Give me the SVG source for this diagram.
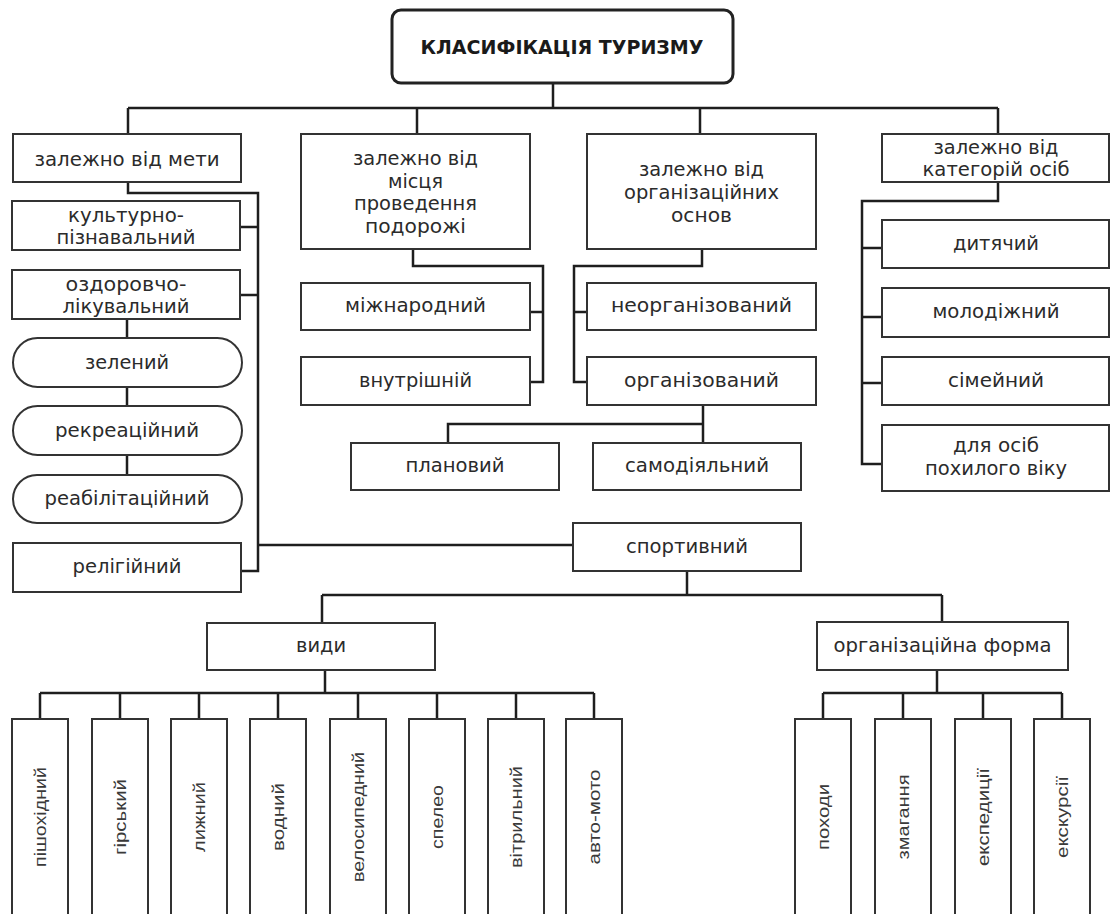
<svg xmlns="http://www.w3.org/2000/svg" width="1111" height="914" viewBox="0 0 1111 914">
<style>
.box{fill:#fff;stroke:#333;stroke-width:2}
.title{fill:#fff;stroke:#222;stroke-width:3}
.c{fill:none;stroke:#1e1e1e;stroke-width:2.5}
.t{font-family:"DejaVu Sans","Liberation Sans",sans-serif;font-size:20px;fill:#2b2b2b;text-anchor:middle}
.tb{font-family:"DejaVu Sans","Liberation Sans",sans-serif;font-size:19px;font-weight:bold;fill:#1a1a1a;text-anchor:middle}
.v{font-family:"Liberation Sans","Arial",sans-serif;font-size:17px;fill:#3a3a3a;text-anchor:middle}
</style>
<rect width="1111" height="914" fill="#fff"/>
<g id="connectors">
<path class="c" d="M553,83V108M128,108H998M128,108V134M417,108V134M700,108V134M998,108V134"/>
<path class="c" d="M128,182V193H258V571H241M241,227H258M241,295H258M258,545H573"/>
<path class="c" d="M127,319V338M127,387V406M127,455V475"/>
<path class="c" d="M413,249V266H543V382H530M530,312H543"/>
<path class="c" d="M702,249V266H574V382H587M574,312H587"/>
<path class="c" d="M703,405V443M703,424H448V443"/>
<path class="c" d="M998,182V201H862V464H882M862,248H882M862,317H882M862,383H882"/>
<path class="c" d="M687,571V595M322,595H942M322,595V623M942,595V622"/>
<path class="c" d="M325,670V693M40,693H594M40,693V719M120,693V719M199,693V719M278,693V719M358,693V719M437,693V719M516,693V719M594,693V719"/>
<path class="c" d="M937,670V693M823,693H1062M823,693V719M903,693V719M983,693V719M1062,693V719"/>
</g>
<g id="n-title"><rect class="title" x="392" y="10" width="341" height="73" rx="9"/><text class="tb" x="562" y="54" textLength="283" lengthAdjust="spacingAndGlyphs">КЛАСИФІКАЦІЯ ТУРИЗМУ</text></g>
<g id="n-meta"><rect class="box" x="13" y="134" width="228" height="48"/><text class="t" x="127" y="166" textLength="185" lengthAdjust="spacingAndGlyphs">залежно від мети</text></g>
<g id="n-place"><rect class="box" x="301" y="134" width="229" height="115"/><text class="t" x="415.5" y="165" textLength="125" lengthAdjust="spacingAndGlyphs">залежно від</text><text class="t" x="415.5" y="188" textLength="55" lengthAdjust="spacingAndGlyphs">місця</text><text class="t" x="415.5" y="210" textLength="123" lengthAdjust="spacingAndGlyphs">проведення</text><text class="t" x="415.5" y="233" textLength="101" lengthAdjust="spacingAndGlyphs">подорожі</text></g>
<g id="n-org"><rect class="box" x="587" y="134" width="229" height="115"/><text class="t" x="701.5" y="176" textLength="125" lengthAdjust="spacingAndGlyphs">залежно від</text><text class="t" x="701.5" y="199" textLength="155" lengthAdjust="spacingAndGlyphs">організаційних</text><text class="t" x="701.5" y="222" textLength="61" lengthAdjust="spacingAndGlyphs">основ</text></g>
<g id="n-cat"><rect class="box" x="882" y="134" width="227" height="48"/><text class="t" x="996" y="154" textLength="125" lengthAdjust="spacingAndGlyphs">залежно від</text><text class="t" x="996" y="176" textLength="147" lengthAdjust="spacingAndGlyphs">категорій осіб</text></g>
<g id="n-cult"><rect class="box" x="12" y="201" width="228" height="49"/><text class="t" x="126" y="222" textLength="116" lengthAdjust="spacingAndGlyphs">культурно-</text><text class="t" x="126" y="244" textLength="139" lengthAdjust="spacingAndGlyphs">пізнавальний</text></g>
<g id="n-health"><rect class="box" x="12" y="270" width="228" height="49"/><text class="t" x="126" y="291" textLength="121" lengthAdjust="spacingAndGlyphs">оздоровчо-</text><text class="t" x="126" y="313" textLength="127" lengthAdjust="spacingAndGlyphs">лікувальний</text></g>
<g id="n-green"><rect class="box" x="13" y="338" width="229" height="49" rx="24.5"/><text class="t" x="127" y="368.5" textLength="84" lengthAdjust="spacingAndGlyphs">зелений</text></g>
<g id="n-recr"><rect class="box" x="13" y="406" width="229" height="49" rx="24.5"/><text class="t" x="127" y="437" textLength="144" lengthAdjust="spacingAndGlyphs">рекреаційний</text></g>
<g id="n-rehab"><rect class="box" x="13" y="475" width="229" height="48" rx="24"/><text class="t" x="127" y="505" textLength="165" lengthAdjust="spacingAndGlyphs">реабілітаційний</text></g>
<g id="n-relig"><rect class="box" x="13" y="543" width="228" height="49"/><text class="t" x="127" y="573" textLength="109" lengthAdjust="spacingAndGlyphs">релігійний</text></g>
<g id="n-intl"><rect class="box" x="301" y="283" width="229" height="47"/><text class="t" x="415.5" y="312" textLength="141" lengthAdjust="spacingAndGlyphs">міжнародний</text></g>
<g id="n-dom"><rect class="box" x="301" y="357" width="229" height="48"/><text class="t" x="415.5" y="387" textLength="113" lengthAdjust="spacingAndGlyphs">внутрішній</text></g>
<g id="n-unorg"><rect class="box" x="587" y="283" width="229" height="47"/><text class="t" x="701.5" y="312" textLength="181" lengthAdjust="spacingAndGlyphs">неорганізований</text></g>
<g id="n-orgd"><rect class="box" x="587" y="357" width="229" height="48"/><text class="t" x="701.5" y="387" textLength="155" lengthAdjust="spacingAndGlyphs">організований</text></g>
<g id="n-plan"><rect class="box" x="351" y="443" width="208" height="47"/><text class="t" x="455" y="472" textLength="99" lengthAdjust="spacingAndGlyphs">плановий</text></g>
<g id="n-self"><rect class="box" x="593" y="443" width="208" height="47"/><text class="t" x="697" y="472" textLength="144" lengthAdjust="spacingAndGlyphs">самодіяльний</text></g>
<g id="n-child"><rect class="box" x="882" y="220" width="227" height="48"/><text class="t" x="996" y="250" textLength="86" lengthAdjust="spacingAndGlyphs">дитячий</text></g>
<g id="n-youth"><rect class="box" x="882" y="288" width="227" height="49"/><text class="t" x="996" y="318" textLength="127" lengthAdjust="spacingAndGlyphs">молодіжний</text></g>
<g id="n-family"><rect class="box" x="882" y="357" width="227" height="48"/><text class="t" x="996" y="387" textLength="96" lengthAdjust="spacingAndGlyphs">сімейний</text></g>
<g id="n-old"><rect class="box" x="882" y="425" width="227" height="66"/><text class="t" x="996" y="452" textLength="86" lengthAdjust="spacingAndGlyphs">для осіб</text><text class="t" x="996" y="475" textLength="142" lengthAdjust="spacingAndGlyphs">похилого віку</text></g>
<g id="n-sport"><rect class="box" x="573" y="523" width="228" height="48"/><text class="t" x="687" y="553" textLength="122" lengthAdjust="spacingAndGlyphs">спортивний</text></g>
<g id="n-vydy"><rect class="box" x="207" y="623" width="228" height="47"/><text class="t" x="321" y="652" textLength="50" lengthAdjust="spacingAndGlyphs">види</text></g>
<g id="n-form"><rect class="box" x="817" y="622" width="251" height="48"/><text class="t" x="942.5" y="652" textLength="218" lengthAdjust="spacingAndGlyphs">організаційна форма</text></g>
<g id="n-walk"><rect class="box" x="12" y="719" width="56" height="198"/><text class="v" transform="translate(46,817) rotate(-90)" textLength="100" lengthAdjust="spacingAndGlyphs">пішохідний</text></g>
<g id="n-mount"><rect class="box" x="92" y="719" width="56" height="198"/><text class="v" transform="translate(126,817) rotate(-90)" textLength="76" lengthAdjust="spacingAndGlyphs">гірський</text></g>
<g id="n-ski"><rect class="box" x="171" y="719" width="56" height="198"/><text class="v" transform="translate(205,817) rotate(-90)" textLength="70" lengthAdjust="spacingAndGlyphs">лижний</text></g>
<g id="n-water"><rect class="box" x="250" y="719" width="56" height="198"/><text class="v" transform="translate(284,817) rotate(-90)" textLength="68" lengthAdjust="spacingAndGlyphs">водний</text></g>
<g id="n-bike"><rect class="box" x="330" y="719" width="56" height="198"/><text class="v" transform="translate(364,817) rotate(-90)" textLength="130" lengthAdjust="spacingAndGlyphs">велосипедний</text></g>
<g id="n-speleo"><rect class="box" x="409" y="719" width="56" height="198"/><text class="v" transform="translate(443,817) rotate(-90)" textLength="64" lengthAdjust="spacingAndGlyphs">спелео</text></g>
<g id="n-sail"><rect class="box" x="488" y="719" width="56" height="198"/><text class="v" transform="translate(522,817) rotate(-90)" textLength="102" lengthAdjust="spacingAndGlyphs">вітрильний</text></g>
<g id="n-auto"><rect class="box" x="566" y="719" width="56" height="198"/><text class="v" transform="translate(600,817) rotate(-90)" textLength="95" lengthAdjust="spacingAndGlyphs">авто-мото</text></g>
<g id="n-hikes"><rect class="box" x="795" y="719" width="56" height="198"/><text class="v" transform="translate(829,817) rotate(-90)" textLength="66" lengthAdjust="spacingAndGlyphs">походи</text></g>
<g id="n-comp"><rect class="box" x="875" y="719" width="56" height="198"/><text class="v" transform="translate(909,817) rotate(-90)" textLength="85" lengthAdjust="spacingAndGlyphs">змагання</text></g>
<g id="n-exped"><rect class="box" x="955" y="719" width="56" height="198"/><text class="v" transform="translate(989,817) rotate(-90)" textLength="98" lengthAdjust="spacingAndGlyphs">експедиції</text></g>
<g id="n-excur"><rect class="box" x="1034" y="719" width="56" height="198"/><text class="v" transform="translate(1068,817) rotate(-90)" textLength="82" lengthAdjust="spacingAndGlyphs">екскурсії</text></g>
</svg>
